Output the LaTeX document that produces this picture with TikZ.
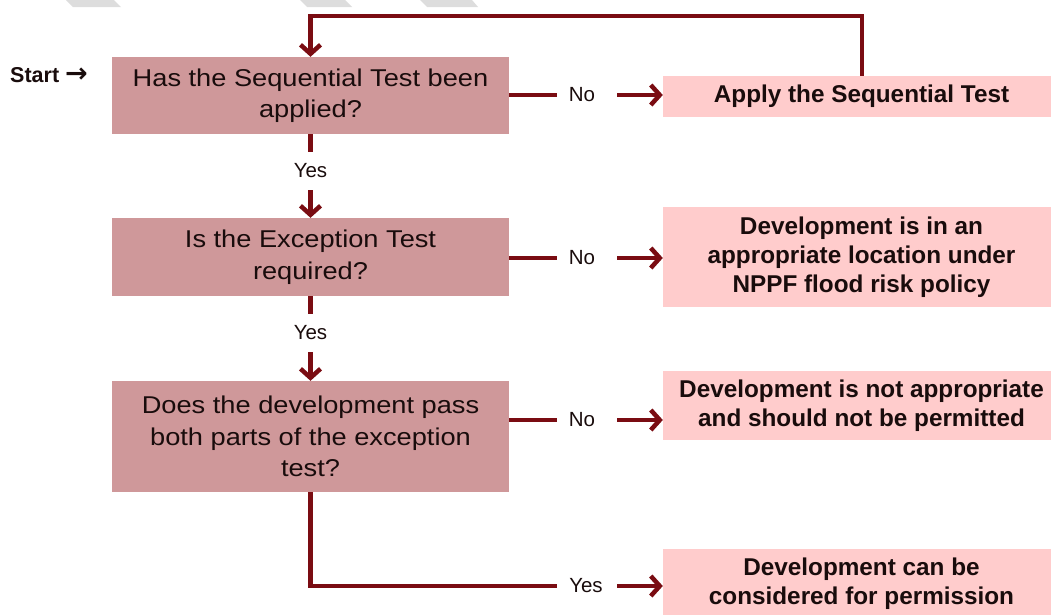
\documentclass[tikz,border=0pt]{standalone}
\usepackage{fontspec}
\setmainfont{Liberation Sans}
\newfontfamily\qfont[FakeStretch=1.12]{Liberation Sans}
\newfontfamily\arrowfont{DejaVu Sans}
\usetikzlibrary{arrows.meta}
\definecolor{qfill}{RGB}{207,152,154}
\definecolor{rfill}{RGB}{255,204,204}
\definecolor{conncol}{RGB}{122,12,18}
\definecolor{wmark}{RGB}{221,221,221}
\definecolor{txt}{RGB}{25,12,12}
\tikzset{
  qbox/.style={rectangle, fill=qfill, inner sep=0pt, minimum width=397pt, align=center,
    text=txt, font=\qfont\fontsize{24.3}{31.5}\selectfont},
  rbox/.style={rectangle, fill=rfill, inner sep=0pt, minimum width=397pt, align=center,
    text=txt, font=\bfseries\fontsize{24.3}{29}\selectfont},
  lbl/.style={inner sep=0pt, text=txt, font=\fontsize{20.5}{24}\selectfont},
  conn/.style={draw=conncol, line width=4.5pt},
  arr/.style={conn, -{Straight Barb[length=9pt,width=20pt]}},
}
\begin{document}
\begin{tikzpicture}[x=1pt,y=-1pt]
\useasboundingbox (0,0) rectangle (1051,614);
% watermark fragments
\fill[wmark] (66,0) -- (114,0) -- (121,7) -- (73,7) -- cycle;
\fill[wmark] (300,0) -- (345,0) -- (352,7) -- (307,7) -- cycle;
\fill[wmark] (420,0) -- (472,0) -- (478,7) -- (427,7) -- cycle;

% start label
\node[anchor=west, inner sep=0pt, text=txt, font=\bfseries\fontsize{21.5}{24}\selectfont] (start) at (10,75) {Start {\arrowfont\fontsize{27}{30}\selectfont →}};

% question boxes
\node[qbox, minimum height=77pt] (q1) at (310.5,95.5) {Has the Sequential Test been\\applied?};
\node[qbox, minimum height=78pt] (q2) at (310.5,257) {Is the Exception Test\\required?};
\node[qbox, minimum height=111pt] (q3) at (310.5,436.5) {Does the development pass\\both parts of the exception\\test?};

% result boxes
\node[rbox, minimum height=41pt] (r1) at (861.5,96.5) {Apply the Sequential Test};
\node[rbox, minimum height=100pt] (r2) at (861.5,257) {Development is in an\\appropriate location under\\NPPF flood risk policy};
\node[rbox, minimum height=69pt] (r3) at (861.5,405.5) {Development is not appropriate\\and should not be permitted};
\node[rbox, minimum height=70pt] (r4) at (861.5,584) {Development can be\\considered for permission};

% labels
\node[lbl] (no1) at (582,95) {No};
\node[lbl] (no2) at (582,258) {No};
\node[lbl] (no3) at (582,420) {No};
\node[lbl] (yes1) at (310.5,171) {Yes};
\node[lbl] (yes2) at (310.5,333) {Yes};
\node[lbl] (yes3) at (586,586) {Yes};

% connector end points
\coordinate (a1) at (557,95);   \coordinate (b1) at (617,95);
\coordinate (a2) at (557,258);  \coordinate (b2) at (617,258);
\coordinate (a3) at (557,420);  \coordinate (b3) at (617,420);
\coordinate (c1) at (310.5,152); \coordinate (d1) at (310.5,190);
\coordinate (c2) at (310.5,314); \coordinate (d2) at (310.5,352);
\coordinate (a4) at (557,586);  \coordinate (b4) at (617,586);
\coordinate (top) at (862,16);

% No branches
\draw[conn] (q1.east |- a1) -- (a1);
\draw[arr] (b1) -- (r1.west |- b1);
\draw[conn] (q2.east |- a2) -- (a2);
\draw[arr] (b2) -- (r2.west |- b2);
\draw[conn] (q3.east |- a3) -- (a3);
\draw[arr] (b3) -- (r3.west |- b3);

% Yes branches
\draw[conn] (q1.south) -- (c1);
\draw[arr] (d1) -- (q2.north);
\draw[conn] (q2.south) -- (c2);
\draw[arr] (d2) -- (q3.north);
\draw[conn, line join=miter] (q3.south) |- (a4);
\draw[arr] (b4) -- (r4.west |- b4);

% feedback loop
\draw[arr, line join=miter] (r1.north -| top) -- (top) -| (q1.north);
\end{tikzpicture}
\end{document}
